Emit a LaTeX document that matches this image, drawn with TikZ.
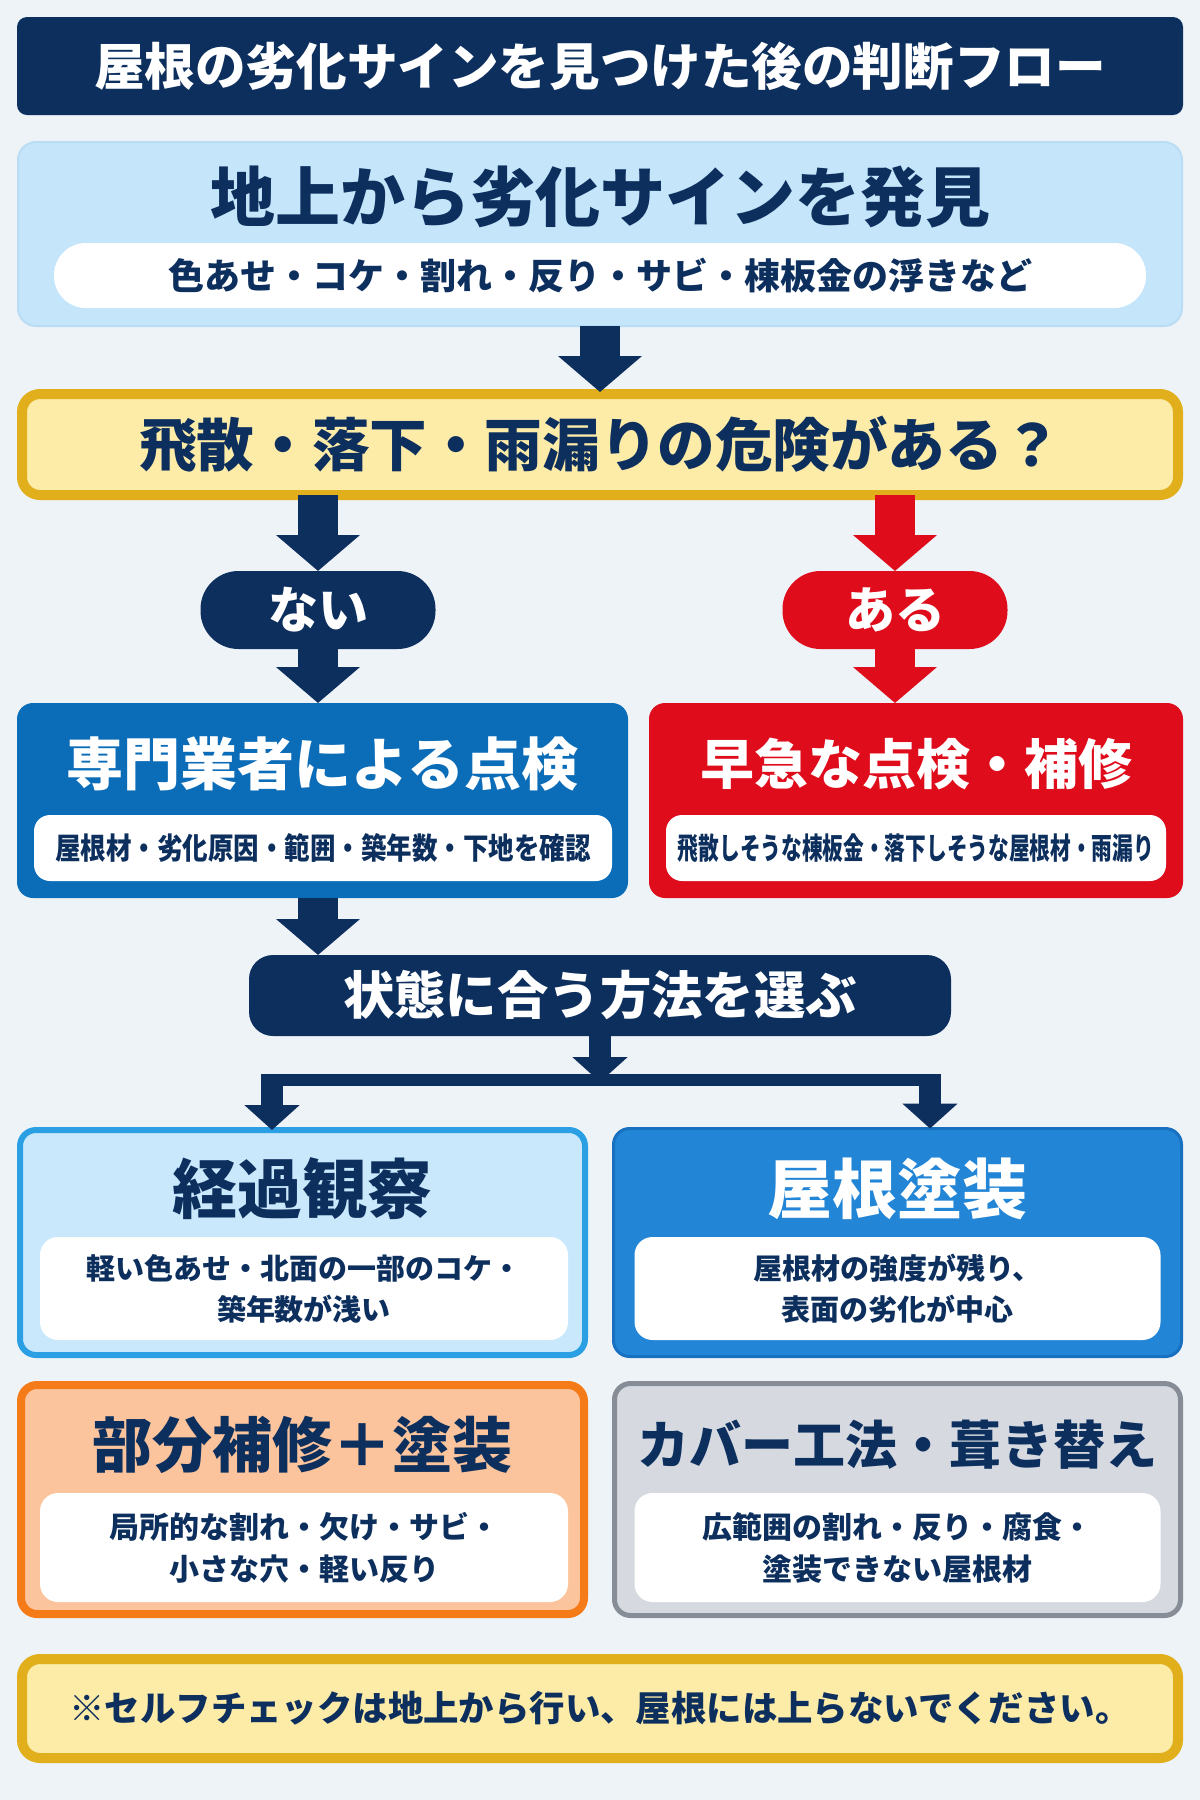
\documentclass[tikz,border=0pt]{standalone}
\usepackage{fontspec}
\setmainfont{Noto Sans CJK JP}
\usetikzlibrary{arrows.meta}
\definecolor{bg}{HTML}{EEF3F8}
\definecolor{navy}{HTML}{0D2F5E}
\definecolor{lblue}{HTML}{C5E5FA}
\definecolor{lblueb}{HTML}{BBDDF4}
\definecolor{yfill}{HTML}{FDEBA8}
\definecolor{yborder}{HTML}{E1AE1C}
\definecolor{redc}{HTML}{DF0C1C}
\definecolor{blue1}{HTML}{0B6CB8}
\definecolor{watchf}{HTML}{C9E8FC}
\definecolor{watchb}{HTML}{2A9FE3}
\definecolor{paintf}{HTML}{2285D6}
\definecolor{paintb}{HTML}{1870C0}
\definecolor{partf}{HTML}{FBC49C}
\definecolor{partb}{HTML}{F57A18}
\definecolor{coverf}{HTML}{D6DAE0}
\definecolor{coverb}{HTML}{878D96}
\newcommand{\fs}[1]{\fontsize{#1}{#1}\selectfont\bfseries}
\begin{document}
\begin{tikzpicture}[x=0.5pt,y=-0.5pt,
  box/.style={rectangle, inner sep=0pt, outer sep=0pt, rounded corners=7pt},
  lbl/.style={inner sep=0pt, text=navy},
  wpill/.style={rectangle, fill=white, inner sep=0pt, text=navy},
  bigarrow/.style={line width=20pt, -{Triangle[width=41pt,length=18pt]}},
  smallarrow/.style={line width=11pt, -{Triangle[width=27pt,length=12.5pt]}},
  body/.style={lbl, align=center, font=\fontsize{14.5}{20.5}\selectfont\bfseries}
]
\fill[bg] (0,0) rectangle (1200,1800);
\useasboundingbox (0,0) rectangle (1200,1800);

% title bar
\node[box, fill=navy, minimum width=583pt, minimum height=49pt, rounded corners=5pt,
  text=white, font=\fs{25.3}] (titlebar) at (600,66) {屋根の劣化サインを見つけた後の判断フロー};

% discover box
\node[box, fill=lblue, draw=lblueb, line width=1pt, minimum width=582pt, minimum height=92pt, rounded corners=9pt] (discover) at (600,234) {};
\node[lbl, font=\fs{32.5}] (discovert) at (600,197) {地上から劣化サインを発見};
\node[wpill, rounded corners=16pt, minimum width=546pt, minimum height=32.5pt, font=\fs{18}] (discoverp) at (600,275.5) {色あせ・コケ・割れ・反り・サビ・棟板金の浮きなど};

% danger question
\node[box, fill=yfill, draw=yborder, line width=5pt, minimum width=578pt, minimum height=50.5pt, rounded corners=9pt,
  text=navy, font=\fs{28.8}] (danger) at (600,444.5) {飛散・落下・雨漏りの危険がある？};

\draw[bigarrow, navy] (discover.south) -- ([yshift=1pt]danger.north);

% yes / no pills
\node[box, fill=navy, minimum width=117.5pt, minimum height=39pt, rounded corners=19pt, text=white, font=\fs{25}] (nai) at (318,610) {ない};
\node[box, fill=redc, minimum width=112.5pt, minimum height=39pt, rounded corners=19pt, text=white, font=\fs{25}] (aru) at (895,610) {ある};

\draw[bigarrow, navy] (nai.north |- danger.south) -- (nai.north);
\draw[bigarrow, redc] (aru.north |- danger.south) -- (aru.north);

% expert inspection
\node[box, fill=blue1, minimum width=305.5pt, minimum height=97.5pt, rounded corners=8pt] (expert) at (322.5,800.5) {};
\node[lbl, text=white, font=\fs{28.5}] (expertt) at (322.5,764) {専門業者による点検};
\node[wpill, rounded corners=8pt, minimum width=289pt, minimum height=33pt, font=\fs{15}] (expertp) at (323,848) {\scalebox{0.85}[1]{屋根材・劣化原因・範囲・築年数・下地を確認}};

% urgent
\node[box, fill=redc, minimum width=267pt, minimum height=97.5pt, rounded corners=8pt] (urgent) at (916,800.5) {};
\node[lbl, text=white, font=\fs{27}] (urgentt) at (916,764) {早急な点検・補修};
\node[wpill, rounded corners=8pt, minimum width=250pt, minimum height=33pt, font=\fs{15}] (urgentp) at (916,848) {\scalebox{0.69}[1]{飛散しそうな棟板金・落下しそうな屋根材・雨漏り}};

\draw[bigarrow, navy] (nai.south) -- (nai.south |- expert.north);
\draw[bigarrow, redc] (aru.south) -- (aru.south |- urgent.north);

% choose
\node[box, fill=navy, minimum width=351pt, minimum height=40.5pt, rounded corners=12pt, text=white, font=\fs{25.7}] (choose) at (600,995.5) {状態に合う方法を選ぶ};
\draw[bigarrow, navy] (nai.south |- expert.south) -- (nai.south |- choose.north);

% split
\coordinate (split) at (600,1080);
\coordinate (lsplit) at (272,1080);
\coordinate (rsplit) at (930,1080);
\draw[navy, line width=6pt] ([xshift=-5.5pt]lsplit) -- ([xshift=5.5pt]rsplit);
\draw[smallarrow, navy] (choose.south) -- ([yshift=-1pt]split);

% four options
\node[box, fill=watchf, draw=watchb, line width=3pt, minimum width=282.5pt, minimum height=112.5pt, rounded corners=8pt] (watch) at (302.5,1242.5) {};
\node[box, fill=paintf, draw=paintb, line width=1.5pt, minimum width=284pt, minimum height=114pt, rounded corners=8pt] (paint) at (897.5,1242.5) {};
\node[box, fill=partf, draw=partb, line width=4pt, minimum width=281.5pt, minimum height=114.5pt, rounded corners=8pt] (partial) at (302.5,1499.5) {};
\node[box, fill=coverf, draw=coverb, line width=2.5pt, minimum width=283pt, minimum height=116pt, rounded corners=8pt] (cover) at (897.5,1499.5) {};

\draw[smallarrow, navy] ([yshift=3pt]lsplit) -- (lsplit |- watch.north);
\draw[smallarrow, navy] ([yshift=3pt]rsplit) -- (rsplit |- paint.north);

\node[lbl, font=\fs{32.5}] (watcht) at (302.5,1189) {経過観察};
\node[wpill, rounded corners=9pt, minimum width=264pt, minimum height=51.5pt] (watchp) at (304,1288.5) {};
\node[body] (watchb) at (watchp) {軽い色あせ・北面の一部のコケ・\\築年数が浅い};

\node[lbl, text=white, font=\fs{32.5}] (paintt) at (897.5,1189) {屋根塗装};
\node[wpill, rounded corners=9pt, minimum width=263pt, minimum height=51.5pt] (paintp) at (897.5,1288.5) {};
\node[body] (paintb) at (paintp) {屋根材の強度が残り、\\表面の劣化が中心};

\node[lbl, font=\fs{30}] (partialt) at (302.5,1445) {部分補修＋塗装};
\node[wpill, rounded corners=9pt, minimum width=264pt, minimum height=54.5pt] (partialp) at (304,1547.5) {};
\node[body, font=\fontsize{15}{21}\selectfont\bfseries] (partialb) at (partialp) {局所的な割れ・欠け・サビ・\\小さな穴・軽い反り};

\node[lbl, font=\fs{26}] (covert) at (897.5,1445) {カバー工法・葺き替え};
\node[wpill, rounded corners=9pt, minimum width=263pt, minimum height=54.5pt] (coverp) at (897.5,1547.5) {};
\node[body, font=\fontsize{15}{21}\selectfont\bfseries] (coverb) at (coverp) {広範囲の割れ・反り・腐食・\\塗装できない屋根材};

% footer
\node[box, fill=yfill, draw=yborder, line width=5pt, minimum width=578pt, minimum height=49.5pt, rounded corners=9pt,
  text=navy, font=\fs{17.7}] (footer) at (600,1708.5) {※セルフチェックは地上から行い、屋根には上らないでください。};
\end{tikzpicture}
\end{document}
